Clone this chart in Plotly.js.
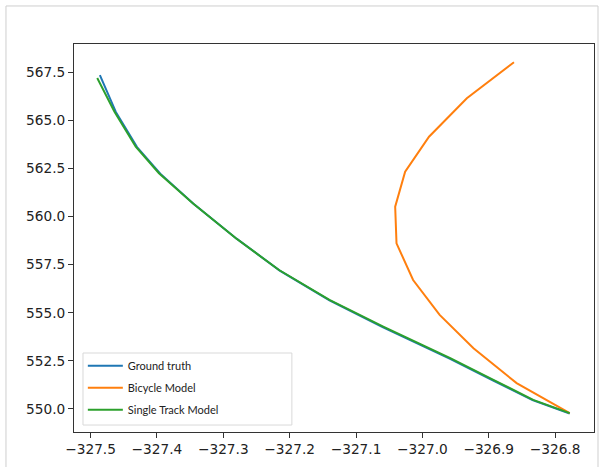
<!DOCTYPE html>
<html>
<head>
<meta charset="utf-8">
<script src="https://cdn.plot.ly/plotly-3.0.1.min.js"></script>
<style>
html,body{margin:0;padding:0;background:#fff;}
#chart{width:599px;height:467px;}
</style>
</head>
<body>
<div id="chart"></div>
<script>
// Ground truth trajectory
const gtX = [-327.486, -327.462, -327.430, -327.395, -327.345, -327.280, -327.215, -327.140, -327.060, -326.959, -326.894, -326.834, -326.778];
const gtY = [567.35, 565.44, 563.61, 562.23, 560.67, 558.85, 557.19, 555.64, 554.25, 552.61, 551.49, 550.46, 549.76];

// Bicycle model trajectory
const bikeX = [-326.778, -326.858, -326.923, -326.974, -327.014, -327.039, -327.041, -327.026, -326.990, -326.933, -326.862];
const bikeY = [549.78, 551.34, 553.15, 554.89, 556.70, 558.61, 560.51, 562.33, 564.15, 566.15, 568.02];

// Single track model trajectory
const stX = [-327.490, -327.464, -327.432, -327.397, -327.346, -327.281, -327.216, -327.140, -327.059, -326.958, -326.893, -326.833, -326.778];
const stY = [567.20, 565.45, 563.63, 562.25, 560.69, 558.87, 557.22, 555.67, 554.28, 552.64, 551.51, 550.47, 549.78];

const names = ['Ground truth', 'Bicycle Model', 'Single Track Model'];
const colors = ['#1f77b4', '#ff7f0e', '#2ca02c'];

const traces = [
  {x: gtX, y: gtY, name: names[0]},
  {x: bikeX, y: bikeY, name: names[1]},
  {x: stX, y: stY, name: names[2]}
].map((t, i) => Object.assign(t, {
  type: 'scatter', mode: 'lines',
  legendgroup: 'g' + i,
  line: {color: colors[i], width: 2},
  hoverinfo: 'skip'
}));

const tickFont = {family: 'DejaVu Sans', size: 13.7, color: '#222'};

const layout = {
  width: 599, height: 467,
  margin: {l: 74, r: 5, t: 44, b: 35, pad: 0},
  paper_bgcolor: '#fff', plot_bgcolor: '#fff',
  showlegend: true,
  legend: {
    x: 0.017, y: 0.208, xanchor: 'left', yanchor: 'top',
    bgcolor: 'rgba(0,0,0,0)', borderwidth: 0,
    tracegroupgap: 3, itemwidth: 35,
    font: {family: 'Lato', size: 11, color: '#222'}
  },
  xaxis: {
    range: [-327.525, -326.7414], dtick: 0.1, tick0: -327.5, tickformat: '.1f',
    showgrid: false, zeroline: false,
    showline: true, mirror: true, linecolor: '#333', linewidth: 1,
    ticks: 'outside', ticklen: 5, tickwidth: 1, tickcolor: '#333',
    tickfont: tickFont
  },
  yaxis: {
    range: [548.80, 568.97], dtick: 2.5, tick0: 550, tickformat: '.1f',
    showgrid: false, zeroline: false,
    showline: true, mirror: true, linecolor: '#333', linewidth: 1,
    ticks: 'outside', ticklen: 5, tickwidth: 1, tickcolor: '#333',
    tickfont: tickFont
  },
  shapes: [{
    type: 'rect', xref: 'paper', yref: 'paper',
    x0: -0.1308, x1: 1.0077, y0: -0.12, y1: 1.098,
    line: {color: '#cfcfcf', width: 1}, fillcolor: 'rgba(0,0,0,0)', layer: 'below'
  }, {
    type: 'rect', xref: 'paper', yref: 'paper',
    x0: 0.0173, x1: 0.419, y0: 0.018, y1: 0.2036,
    line: {color: '#d9d9d9', width: 1}, fillcolor: 'rgba(255,255,255,0.8)', layer: 'above'
  }]
};

Plotly.newPlot('chart', traces, layout, {staticPlot: true, displayModeBar: false});
</script>
</body>
</html>
